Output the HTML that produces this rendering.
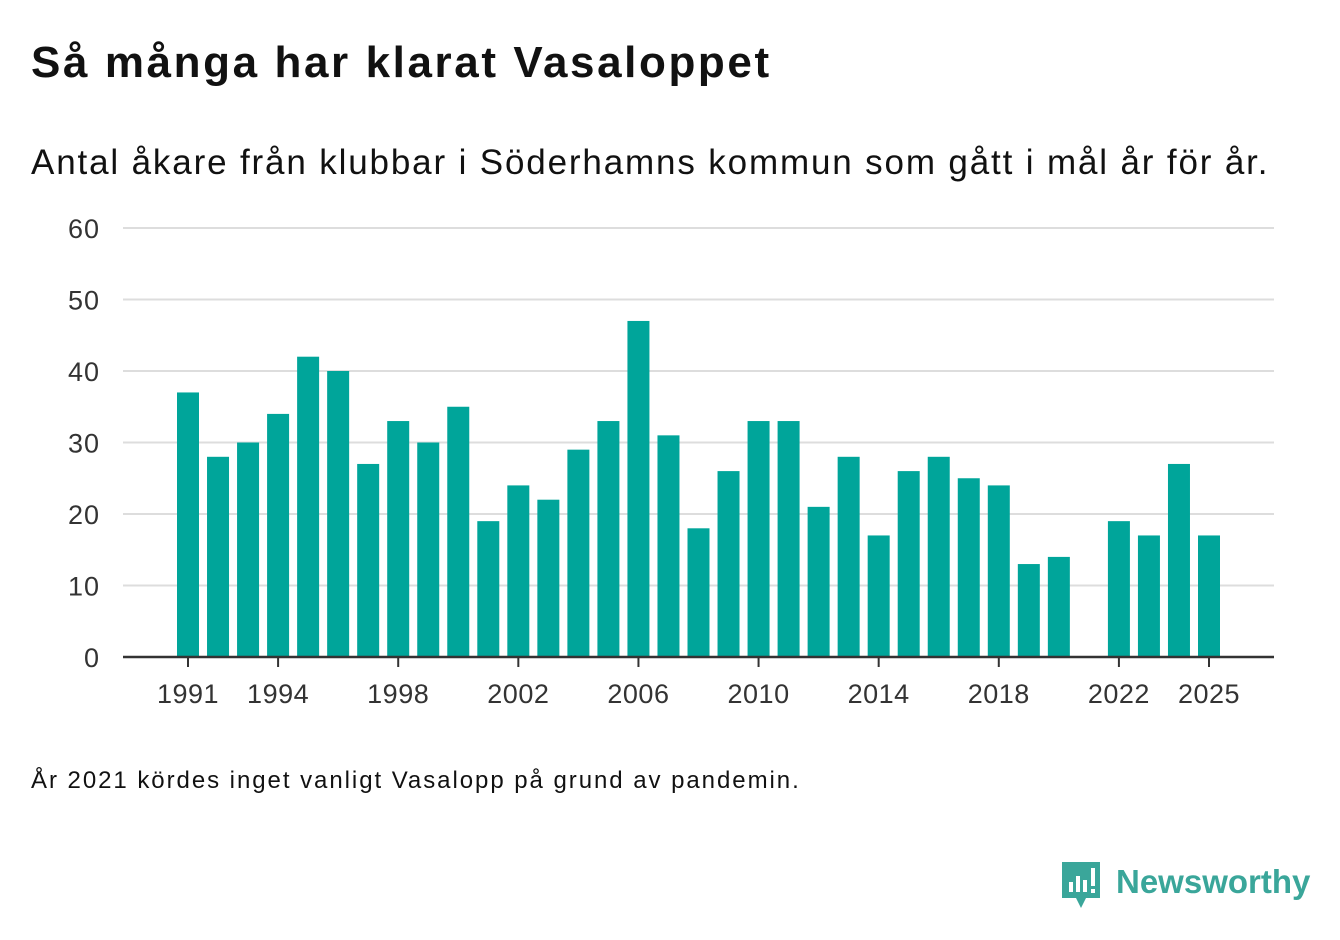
<!DOCTYPE html>
<html><head><meta charset="utf-8"><style>
body{margin:0;width:1340px;height:940px;background:#fff;font-family:"Liberation Sans","DejaVu Sans",sans-serif;color:#111;position:relative;overflow:hidden}
.t{position:absolute;left:31px;top:38px;font-size:44px;font-weight:bold;margin:0;letter-spacing:2.6px;white-space:nowrap}
.s{position:absolute;left:31px;top:143px;font-size:35px;margin:0;white-space:nowrap;letter-spacing:1.85px}
.f{position:absolute;left:31px;top:767px;font-size:24px;margin:0;letter-spacing:1.95px;white-space:nowrap}
svg{position:absolute;left:0;top:0}
</style></head><body>
<h1 class="t">Så många har klarat Vasaloppet</h1>
<p class="s">Antal åkare från klubbar i Söderhamns kommun som gått i mål år för år.</p>
<p class="f">År 2021 kördes inget vanligt Vasalopp på grund av pandemin.</p>
<svg id="c" width="1340" height="940"></svg>
<div style="position:absolute;left:1062px;top:862px;display:flex;align-items:center">
<svg width="40" height="48" style="position:static"><path d="M0 0H38V36H24L19 46L14 36H0Z" fill="#3aa69a"/><rect x="7" y="20" width="4" height="10" fill="#fff"/><rect x="14" y="14" width="4" height="16" fill="#fff"/><rect x="21" y="18" width="4" height="12" fill="#fff"/><rect x="29" y="6" width="4" height="18" fill="#fff"/><rect x="29" y="27" width="4" height="4" fill="#fff"/></svg>
<span style="font-size:33px;font-weight:bold;color:#3aa69a;margin-left:14px;margin-top:-8px">Newsworthy</span></div>
<script>
const years=[1991,1992,1993,1994,1995,1996,1997,1998,1999,2000,2001,2002,2003,2004,2005,2006,2007,2008,2009,2010,2011,2012,2013,2014,2015,2016,2017,2018,2019,2020,2021,2022,2023,2024,2025];
const values=[37,28,30,34,42,40,27,33,30,35,19,24,22,29,33,47,31,18,26,33,33,21,28,17,26,28,25,24,13,14,null,19,17,27,17];
const yTicks=[0,10,20,30,40,50,60];
const xTicks=[1991,1994,1998,2002,2006,2010,2014,2018,2022,2025];
const svg=document.getElementById('c');const NS='http://www.w3.org/2000/svg';
const y=v=>657-v*(657-228)/60;
const x=yr=>188+(yr-1991)*(1209-188)/34;
function mk(t,a){const e=document.createElementNS(NS,t);for(const k in a)e.setAttribute(k,a[k]);svg.appendChild(e);return e;}
yTicks.forEach(v=>{
 if(v>0){const g=mk('line',{x1:123,x2:1274,y1:y(v),y2:y(v),stroke:'#ddd','stroke-width':2});
 
 }
 const t=mk('text',{x:100,y:y(v)+10,'text-anchor':'end','font-size':27,fill:'#333','letter-spacing':1});t.textContent=v;
 
 
});
years.forEach((yr,i)=>{const v=values[i];if(v==null)return;
 const r=mk('rect',{x:x(yr)-11,y:y(v),width:22,height:657-y(v),fill:'#00a59a'});
 
 
});
const ax=mk('line',{x1:123,x2:1274,y1:657,y2:657,stroke:'#333','stroke-width':2.5});


xTicks.forEach(yr=>{
 mk('line',{x1:x(yr),x2:x(yr),y1:657,y2:667,stroke:'#333','stroke-width':2});
 const t=mk('text',{x:x(yr),y:703,'text-anchor':'middle','font-size':27,fill:'#333','letter-spacing':0.5});t.textContent=yr;
 
 
});
</script>
</body></html>
